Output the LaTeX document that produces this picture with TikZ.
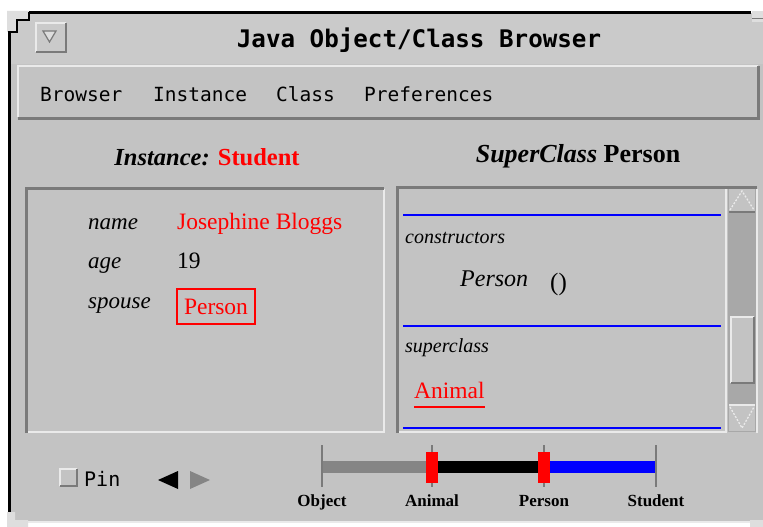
\documentclass[tikz,border=0pt]{standalone}
\usepackage{fontspec}
\setmainfont{Liberation Serif}
\newfontfamily\guimono{DejaVu Sans Mono}
\definecolor{winbg}{HTML}{C3C3C3}
\definecolor{titlebg}{HTML}{CACACA}
\definecolor{edgedark}{HTML}{7A7A7A}
\definecolor{edgelight}{HTML}{EAEAEA}
\definecolor{trough}{HTML}{A8A8A8}
\definecolor{xred}{HTML}{FF0000}
\definecolor{xblue}{HTML}{0000FF}
\definecolor{bargray}{HTML}{858585}
\tikzset{
  darkedge/.style={draw=edgedark, line width=3pt},
  lightedge/.style={draw=edgelight, line width=2pt},
  menuitem/.style={font=\guimono\fontsize{19.5}{22}\selectfont, anchor=base west, inner sep=0pt},
  fieldlabel/.style={font=\itshape\fontsize{23}{27}\selectfont, anchor=base west, inner sep=0pt},
  fieldval/.style={font=\fontsize{23.5}{27}\selectfont, anchor=base west, inner sep=0pt},
  smalllabel/.style={font=\itshape\fontsize{20}{23}\selectfont, anchor=base west, inner sep=0pt},
  ticklabel/.style={font=\bfseries\fontsize{17}{20}\selectfont, anchor=base, inner sep=0pt},
  tickline/.style={draw=edgedark, line width=2.5pt},
  marker/.style={fill=xred},
  blueline/.style={draw=xblue, line width=2pt}
}
\begin{document}
\begin{tikzpicture}[x=1pt,y=-1pt]
\useasboundingbox (0,0) rectangle (763,527);
\fill[white] (0,0) rectangle (763,527);
% window body
\fill[winbg] (9,13) rectangle (763,522);
\fill[titlebg] (9,13) rectangle (763,64);
\draw[edgelight, line width=2pt] (9,522) -- (763,522);
% window frame
\fill[edgelight!70!winbg] (7,11) -- (29,11) -- (29,20) -- (17,20) -- (17,32) -- (7,32) -- cycle;
\draw[black, line width=3pt] (29,13) -- (751,13);
\draw[black, line width=1.5pt] (29,12) -- (29,20) -- (17,20) -- (17,32) -- (9,32);
\draw[black, line width=3pt] (9,31) -- (9,512);
\fill[edgelight!70!winbg] (752,11) rectangle (763,22);
\draw[edgedark, line width=1pt] (752,19) -- (763,19);
\fill[edgelight!70!winbg] (7,512) -- (15,512) -- (15,520) -- (28,520) -- (28,527) -- (7,527) -- cycle;
\fill[edgelight!70!winbg] (750,520) rectangle (763,527);
% title bar
\draw[lightedge] (36,52) -- (36,23) -- (66,23);
\draw[edgedark, line width=2pt] (36,52) -- (66,52) -- (66,23);
\draw[edgedark, line width=1.2pt, fill=edgelight!60!titlebg] (43,31) -- (56,31) -- (49.5,42) -- cycle;
\node[font=\guimono\bfseries\fontsize{24.2}{28}\selectfont, anchor=base, inner sep=0pt] (title) at (419,48) {Java Object/Class Browser};
% menu bar
\draw[lightedge] (18,117) -- (18,66) -- (758,66);
\draw[darkedge] (18,118) -- (758,118) -- (758,66);
\node[menuitem] (mbrowser) at (40,102) {Browser};
\node[menuitem] (minstance) at (153,102) {Instance};
\node[menuitem] (mclass) at (276,102) {Class};
\node[menuitem] (mprefs) at (364,102) {Preferences};
% headings
\node[anchor=base, inner sep=0pt] (insthead) at (207,165) {\fontsize{24.5}{28}\selectfont\bfseries\itshape Instance: \textcolor{xred}{\upshape Student}};
\node[anchor=base, inner sep=0pt] (superhead) at (578,162) {\fontsize{26}{30}\selectfont\bfseries\itshape SuperClass \upshape Person};
% left panel
\draw[lightedge] (27,432) -- (384,432) -- (384,189);
\draw[darkedge] (26,433) -- (26,188) -- (384,188);
\node[fieldlabel] (lname) at (88,229) {name};
\node[fieldval, text=xred] (vname) at (177,229) {Josephine Bloggs};
\node[fieldlabel] (lage) at (88,268) {age};
\node[fieldval] (vage) at (177,268) {19};
\node[fieldlabel] (lspouse) at (88,308) {spouse};
\node[draw=xred, line width=1.5pt, text=xred, font=\fontsize{23.5}{27}\selectfont, minimum width=78pt, minimum height=35pt, inner sep=0pt] (vspouse) at (216,306.5) {Person};
% right panel
\draw[lightedge] (399,432) -- (726,432) -- (726,189);
\draw[darkedge] (397,433) -- (397,187) -- (757,187);
\fill[trough] (728,189) rectangle (756,432);
\draw[lightedge] (757,189) -- (757,433);
% scroll buttons
\fill[winbg] (729,189) rectangle (755,212);
\draw[edgedark, line width=2pt] (729,212) -- (755,212);
\draw[edgelight, line width=1.3pt, dash pattern=on 2pt off 1.5pt] (730,210) -- (742,191) -- (754,210);
\fill[winbg] (729,405) rectangle (755,431);
\draw[edgelight, line width=1.5pt] (729,405) -- (755,405);
\draw[edgelight, line width=1.3pt, dash pattern=on 2pt off 1.5pt] (730,407) -- (742,428) -- (754,407);
% thumb
\fill[winbg] (731,317) rectangle (754,383);
\draw[edgelight, line width=1.5pt] (731,383) -- (731,317) -- (754,317);
\draw[edgedark, line width=2pt] (731,383) -- (754,383) -- (754,317);
% list contents
\coordinate (b1l) at (403,215); \coordinate (b1r) at (721,215);
\coordinate (b2l) at (403,326); \coordinate (b2r) at (721,326);
\coordinate (b3l) at (403,428); \coordinate (b3r) at (721,428);
\draw[blueline] (b1l) -- (b1r);
\draw[blueline] (b2l) -- (b2r);
\draw[blueline] (b3l) -- (b3r);
\node[smalllabel] (lcons) at (405,243) {constructors};
\node[font=\itshape\fontsize{24}{28}\selectfont, anchor=base west, inner sep=0pt] (cperson) at (460,286) {Person};
\node[font=\fontsize{25}{29}\selectfont, anchor=base west, inner sep=0pt] (cparen) at (550,290) {()};
\node[smalllabel] (lsuper) at (405,352) {superclass};
\node[fieldval, text=xred] (vanimal) at (414,398) {Animal};
\draw[xred, line width=2pt] (vanimal.base west) ++(0,9) coordinate (ul1) -- (vanimal.base east |- ul1) coordinate (ul2);
% pin and arrows
\draw[edgelight, line width=2pt, fill=winbg] (60,486) -- (60,469) -- (77,469);
\draw[edgedark, line width=2.5pt] (60,486) -- (77,486) -- (77,469);
\node[font=\guimono\fontsize{20}{24}\selectfont, anchor=base west, inner sep=0pt] (pin) at (84,486) {Pin};
\fill[black] (158,480) -- (178,471) -- (178,489) -- cycle;
\fill[bargray] (210,480) -- (190,471) -- (190,489) -- cycle;
% timeline
\coordinate (tobj) at (322,445); \coordinate (tani) at (432,445);
\coordinate (tper) at (544,445); \coordinate (tstu) at (656,445);
\fill[bargray] (322,461) rectangle (432,473);
\fill[black] (432,461) rectangle (544,473);
\fill[xblue] (544,461) rectangle (656,473);
\draw[tickline] (tobj) -- ++(0,42);
\draw[tickline] (tani) -- ++(0,42);
\draw[tickline] (tper) -- ++(0,42);
\draw[tickline] (tstu) -- ++(0,42);
\fill[marker] (426,452) rectangle (438,483);
\fill[marker] (538,452) rectangle (550,483);
\node[ticklabel] (lobj) at (322,506) {Object};
\node[ticklabel] (lani) at (432,506) {Animal};
\node[ticklabel] (lper) at (544,506) {Person};
\node[ticklabel] (lstu) at (656,506) {Student};
\end{tikzpicture}
\end{document}
